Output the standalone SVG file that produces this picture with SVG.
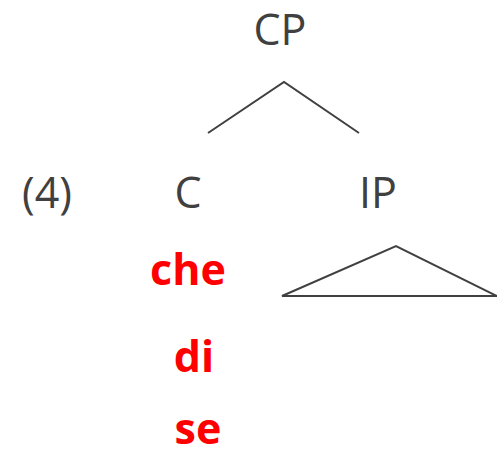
<svg xmlns="http://www.w3.org/2000/svg" width="497" height="457" viewBox="0 0 497 457">
<style>
.t{font-family:"Open Sans","Noto Sans",sans-serif;font-size:43px;fill:#404040;text-anchor:middle}
.r{font-family:"Open Sans","Noto Sans",sans-serif;font-size:43px;font-weight:bold;fill:#ff0000;text-anchor:middle}
.l{stroke:#404040;stroke-width:2;fill:none}
</style>
<rect width="497" height="457" fill="#fff"/>
<g id="connectors">
<polyline class="l" points="208,133 284,82 359,133"/>
<polygon class="l" points="282,296 396,246 497,296"/>
</g>
<g id="n-cp"><text class="t" x="280" y="45">CP</text></g>
<g id="n-ex"><text class="t" x="47" y="208">(4)</text></g>
<g id="n-c"><text class="t" x="188" y="208">C</text></g>
<g id="n-ip"><text class="t" x="378" y="208">IP</text></g>
<g id="n-che"><text class="r" x="188" y="285">che</text></g>
<g id="n-di"><text class="r" x="194" y="372">di</text></g>
<g id="n-se"><text class="r" x="198" y="444">se</text></g>
</svg>
